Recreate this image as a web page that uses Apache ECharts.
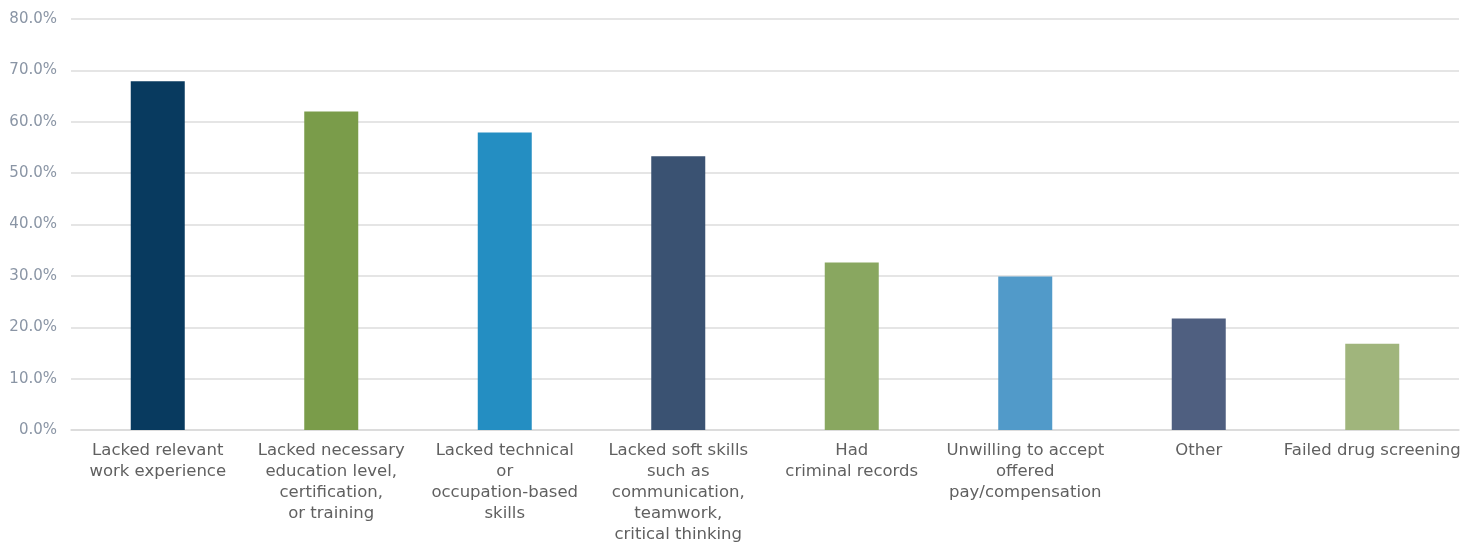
<!DOCTYPE html>
<html><head><meta charset="utf-8">
<script src="https://cdn.jsdelivr.net/npm/echarts@6/dist/echarts.min.js"></script>
<style>html,body{margin:0;padding:0;background:#fff}#c{width:1479px;height:542px}</style>
</head><body><div id="c"></div>
<script>
const categories = [
  "Lacked relevant\nwork experience",
  "Lacked necessary\neducation level,\ncertification,\nor training",
  "Lacked technical\nor\noccupation-based\nskills",
  "Lacked soft skills\nsuch as\ncommunication,\nteamwork,\ncritical thinking",
  "Had\ncriminal records",
  "Unwilling to accept\noffered\npay/compensation",
  "Other",
  "Failed drug screening"
];
const values = [67.9, 62.0, 57.9, 53.3, 32.6, 29.9, 21.7, 16.8];
const barColors = ["#083a5f", "#7a9c4a", "#248ec2", "#3a5272", "#89a760", "#519ac9", "#4f5f80", "#a0b57c"];

const chart = echarts.init(document.getElementById('c'));
chart.setOption({
  animation: false,
  grid: { left: 71, right: 20, top: 19, bottom: 112, outerBoundsMode: 'none', containLabel: false },
  xAxis: {
    type: 'category',
    data: categories,
    axisTick: { show: false },
    axisLine: { lineStyle: { color: '#d9d9d9', width: 1.5 } },
    axisLabel: {
      interval: 0, margin: 10, color: '#606060', fontSize: 16.5,
      fontFamily: 'DejaVu Sans', lineHeight: 21
    }
  },
  yAxis: {
    type: 'value', min: 0, max: 80, interval: 10,
    axisLine: { show: false }, axisTick: { show: false },
    splitLine: { lineStyle: { color: '#dcdcdc', width: 1.5 } },
    axisLabel: {
      formatter: v => v.toFixed(1) + '%', color: '#8a95a5', fontSize: 15,
      fontFamily: 'DejaVu Sans', margin: 14
    }
  },
  series: [{
    type: 'bar',
    barWidth: 54,
    data: values.map((v, i) => ({ value: v, itemStyle: { color: barColors[i] } }))
  }]
});
</script></body></html>
